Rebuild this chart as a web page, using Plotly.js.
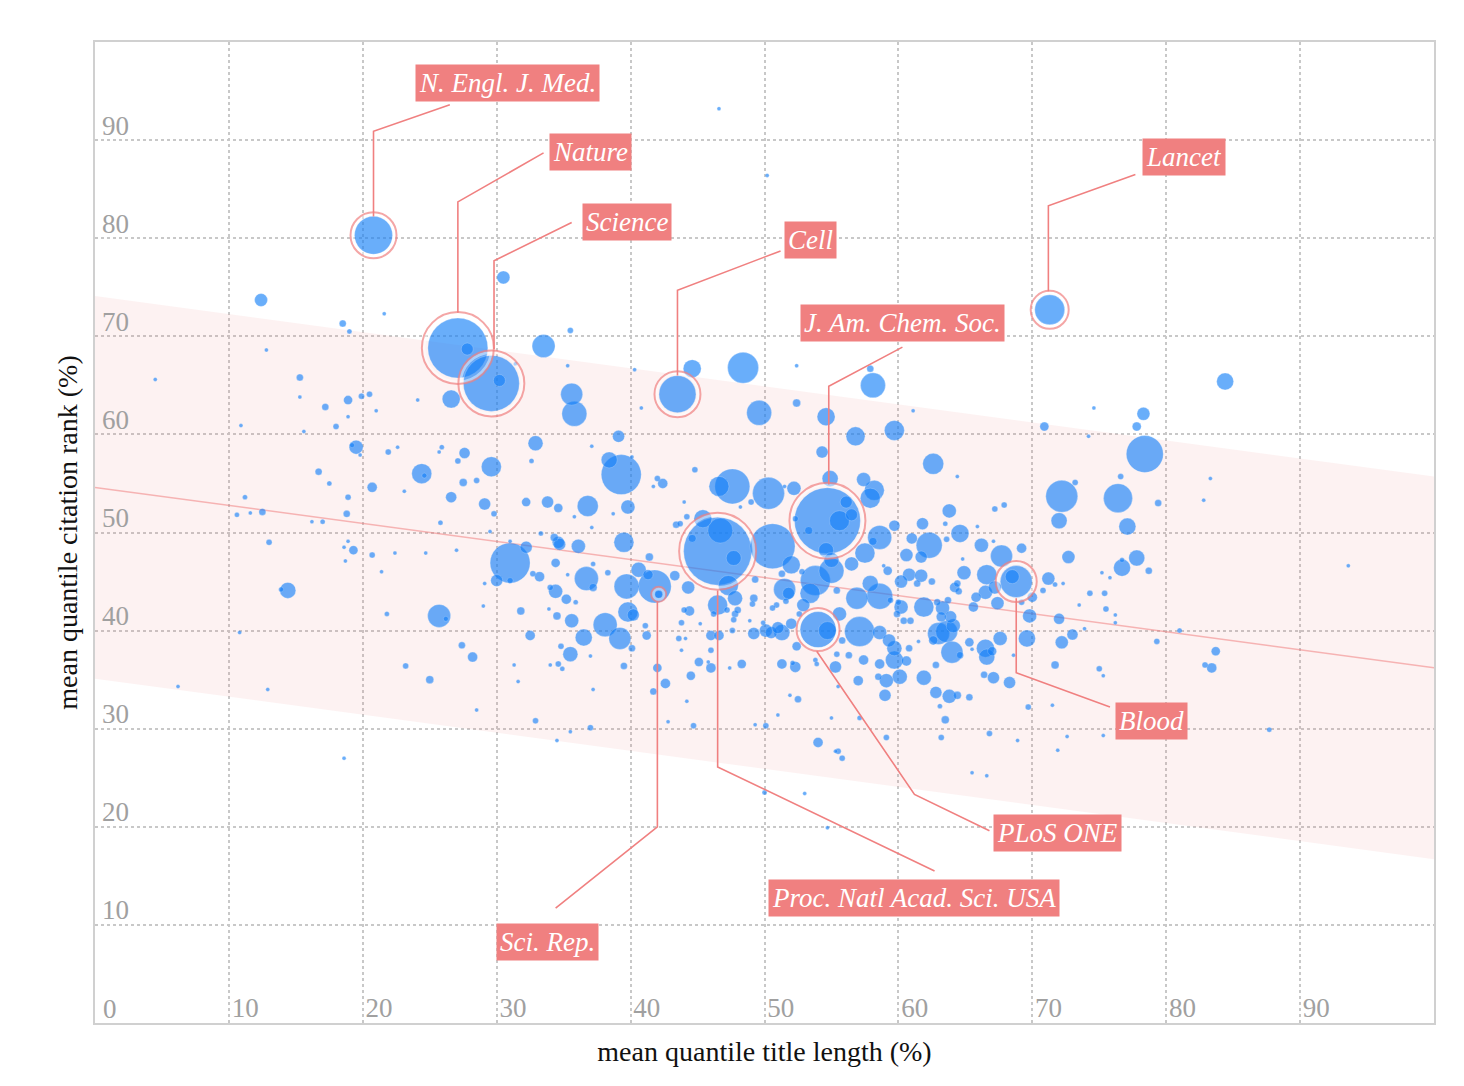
<!DOCTYPE html>
<html><head><meta charset="utf-8">
<script src="https://cdn.plot.ly/plotly-3.0.1.min.js"></script>
<style>html,body{margin:0;padding:0;background:#fff}#chart{width:1464px;height:1086px}</style>
</head><body><div id="chart"></div>
<script>
// ---- journal bubbles: mean quantile title length (x), mean quantile citation rank (y), bubble diameter ----
const titleLength = [
12.4,18.5,19.0,21.6,12.8,4.5,15.3,15.3,17.2,18.9,
19.9,20.5,18.9,21.0,24.1,26.6,27.1,29.6,30.2,27.8,
10.9,15.6,18.0,19.5,19.2,19.8,21.9,22.6,25.9,25.7,
27.6,27.1,29.6,24.4,24.6,16.7,17.5,20.7,23.1,27.5,
28.5,26.6,29.1,18.9,11.2,10.6,11.6,12.5,16.2,17.0,
18.8,25.8,29.5,13.0,19.3,18.6,18.9,20.7,22.4,24.7,
27.0,18.7,21.4,14.4,13.9,21.8,25.7,26.2,29.0,29.1,
10.8,27.4,28.2,23.2,25.0,6.2,12.9,28.5,18.6,
33.5,35.5,31.4,35.3,40.3,35.6,35.8,40.8,43.5,44.6,
48.4,49.6,52.4,52.4,54.6,54.3,54.9,39.1,32.9,37.1,
32.6,38.4,39.3,40.1,44.8,42.0,42.4,41.7,47.6,46.6,
50.3,52.2,51.5,49.0,48.2,44.0,29.8,32.2,33.8,34.6,
36.8,39.8,35.8,38.7,37.1,33.3,31.0,45.4,44.2,43.4,
43.7,46.5,46.7,44.6,50.6,54.7,52.3,53.3,34.3,34.6,
36.1,39.5,
31.0,32.2,34.7,41.4,34.4,37.2,35.3,38.3,32.7,33.2,
30.0,31.0,36.7,37.2,39.7,40.6,41.3,41.8,42.1,43.3,
44.3,34.0,34.4,35.2,35.9,31.8,33.9,34.5,35.6,38.1,
36.5,39.2,39.8,40.2,41.1,41.2,40.1,32.5,34.8,35.5,
37.0,31.3,34.0,34.6,34.9,39.5,31.6,37.2,42.0,42.6,
41.7,32.9,35.5,37.0,34.5,42.8,44.2,44.7,44.5,45.1,
46.0,46.0,45.8,43.8,43.6,44.1,43.8,45.2,44.4,44.0,
46.0,46.6,46.5,46.2,47.2,47.8,47.8,48.0,47.7,47.4,
48.3,47.6,48.9,49.1,49.2,49.3,49.2,47.3,50.1,49.9,
50.5,51.0,51.3,52.0,52.4,51.3,52.3,52.1,51.9,52.5,
51.0,49.3,50.1,54.0,55.0,55.3,54.0,54.7,53.8,53.9,
55.3,55.5,51.5,51.8,50.9,50.6,51.6,53.8,53.4,52.9,
52.6,52.0,51.3,52.8,47.7,54.6,55.0,55.4,55.0,
58.1,57.9,61.1,56.8,59.7,62.6,64.4,70.9,74.6,74.2,
78.3,77.8,78.4,76.6,79.4,82.8,83.3,72.2,73.2,72.0,
76.4,77.1,77.8,72.7,76.7,57.4,58.2,57.9,56.1,63.8,
67.2,67.9,61.8,63.5,64.6,65.9,59.7,58.6,58.1,61.0,
62.3,63.6,66.2,67.1,67.7,69.2,60.6,57.5,64.8,56.5,
55.6,
61.7,56.5,59.2,58.9,60.8,60.2,61.7,61.4,62.5,64.9,
64.4,64.2,64.5,66.6,67.2,66.5,65.8,67.4,65.6,68.8,
68.5,71.2,71.7,72.3,70.8,70.0,69.2,76.7,78.7,75.2,
75.8,74.3,75.4,75.5,73.5,76.2,76.2,69.8,72.0,73.9,
73.0,72.2,69.6,71.7,75.0,75.3,79.3,81.0,82.9,71.5,
69.7,68.9,72.6,71.9,75.3,66.8,63.2,59.1,63.5,63.1,
65.3,62.8,63.8,64.4,61.9,59.0,57.0,57.1,59.1,60.1,
58.5,58.6,59.7,60.6,60.8,57.4,56.3,55.4,59.7,59.3,
58.6,57.1,55.8,62.6,63.0,63.6,64.1,64.0,64.6,62.8,
61.5,65.3,66.5,66.6,67.0,67.6,66.4,67.1,68.3,68.6,
65.5,61.9,63.3,63.2,62.9,63.7,63.9,60.2,60.4,60.9,
59.9,56.9,58.6,57.9,59.4,60.0,55.6,
84.4,93.6,83.7,83.4,87.7,55.5,55.8,50.0,53.0,54.7,
65.5,66.6,46.6,50.2,20.8,71.3,30.5
];
const citationRank = [
73.7,71.3,70.5,72.3,68.6,65.6,65.8,63.8,62.8,63.5,
63.9,64.1,61.8,62.4,63.5,63.6,68.8,65.2,65.5,68.7,
60.9,60.3,60.8,58.7,58.9,57.9,58.2,58.7,58.7,58.2,
58.1,57.3,56.7,56.0,55.8,56.2,55.0,54.6,54.2,55.1,
55.3,53.6,52.9,53.6,53.6,51.8,52.0,52.1,51.1,51.1,
51.9,51.0,50.1,49.0,48.2,48.5,49.1,47.7,47.9,47.9,
48.2,47.1,46.0,44.1,44.2,41.7,41.5,41.2,42.5,44.8,
39.8,38.5,37.3,36.4,35.0,34.3,34.0,31.9,27.0,
69.0,70.6,67.2,67.0,66.6,64.1,62.1,62.7,64.1,66.7,
66.8,62.2,67.0,63.2,61.8,58.2,55.5,59.8,59.1,58.8,
57.3,57.4,55.9,57.7,56.4,55.5,55.0,54.7,54.7,54.7,
54.0,54.5,54.7,53.1,52.6,53.1,51.9,53.1,53.1,52.5,
52.7,52.6,51.6,51.9,50.5,49.9,49.1,51.4,51.6,50.8,
50.9,48.1,50.2,49.4,48.6,51.2,51.4,50.2,49.5,49.0,
48.6,49.0,
46.9,48.5,48.8,47.5,46.9,46.8,45.7,45.9,45.8,45.5,
45.1,45.1,45.3,44.4,44.5,46.2,45.7,44.5,43.7,45.6,
44.4,44.4,44.0,43.2,42.9,42.0,42.2,41.5,41.0,40.6,
39.3,39.2,41.9,41.6,40.5,39.5,38.2,39.5,38.4,37.6,
37.4,36.5,36.5,36.6,36.1,36.4,34.8,34.0,36.2,34.6,
33.8,30.8,29.7,30.1,28.8,30.7,32.8,30.3,35.4,36.8,
36.2,38.0,36.8,38.0,39.2,39.2,40.8,40.7,42.0,42.1,
39.5,39.5,42.6,41.7,42.1,43.3,41.7,42.1,41.1,36.2,
36.6,40.0,41.0,42.7,43.3,45.2,39.7,44.6,40.0,40.8,
39.8,40.3,39.8,40.7,38.4,36.6,36.3,36.7,33.4,33.0,
31.4,30.4,30.3,28.6,31.1,27.7,40.1,40.0,37.0,36.6,
36.3,34.3,44.2,43.8,42.6,42.3,43.0,45.1,43.8,42.6,
41.7,46.7,45.8,46.0,47.4,48.2,46.1,44.1,47.2,
65.0,66.7,62.4,59.8,60.4,57.0,55.7,60.8,62.7,59.8,
62.1,60.8,58.0,55.7,53.0,53.3,55.5,53.7,55.1,51.2,
53.5,50.6,47.4,47.5,47.2,55.4,54.3,53.5,53.1,52.2,
52.4,52.8,50.9,50.9,49.9,50.6,50.7,49.5,49.1,49.4,
48.7,49.3,48.7,49.1,47.6,48.4,47.7,47.9,47.3,51.8,
51.2,
47.5,46.8,46.1,46.6,45.7,45.0,45.6,44.8,45.0,45.9,
44.8,44.4,44.0,45.7,44.4,43.9,43.4,42.8,42.4,45.0,
45.5,45.3,44.7,44.8,44.1,43.4,42.9,46.4,46.1,45.9,
45.4,43.8,43.8,42.2,42.6,41.6,40.8,41.5,41.2,40.2,
39.6,38.8,39.2,36.5,36.1,35.4,38.9,40.0,36.5,32.4,
32.2,28.8,29.2,27.8,29.3,29.5,29.1,29.1,30.9,32.3,
33.2,33.7,33.3,33.4,35.2,33.4,34.9,31.1,34.9,35.3,
35.3,36.6,37.0,36.9,38.2,37.0,37.5,37.6,38.2,39.0,
39.8,39.9,39.0,39.0,39.7,39.9,40.5,37.8,37.5,36.5,
38.9,38.8,38.2,37.3,37.9,39.2,35.5,35.2,34.7,37.5,
38.1,42.4,42.3,41.4,42.9,43.1,41.4,42.4,41.0,41.0,
41.7,43.3,43.5,44.8,43.1,42.9,41.7,
65.4,46.6,37.9,36.2,29.9,27.7,27.0,23.5,23.4,19.9,
25.5,25.2,93.2,86.4,80.3,72.7,76.0
];
const bubbleSize = [
13,7,5,4,4,4,7,4,7,9,
6,6,4,4,4,18,60,56,12,12,
4,4,6,14,5,4,6,4,5,4,
11,6,20,20,5,7,5,10,4,8,
6,11,12,6,5,5,4,7,4,5,
7,5,4,6,9,4,4,6,4,4,
4,4,4,16,5,5,23,5,4,4,
4,7,10,6,8,4,4,4,4,
23,6,4,4,4,22,25,4,37,18,
31,25,4,8,18,12,16,12,15,4,
5,16,40,4,6,6,10,4,35,20,
32,14,4,6,4,4,6,9,12,9,
21,14,4,4,4,5,4,18,6,7,
6,68,25,8,45,66,6,8,8,12,
14,20,
40,12,12,8,9,5,4,6,6,10,
12,6,24,8,25,15,10,33,8,10,
13,6,14,10,5,8,4,8,14,24,
17,22,20,12,6,9,7,10,6,15,
4,4,4,6,5,7,4,4,9,10,
7,6,4,6,4,4,4,6,9,9,
10,6,4,4,6,4,6,4,10,6,
10,10,20,6,6,15,7,7,6,4,
9,6,4,6,8,7,12,20,13,5,
12,12,16,11,9,10,11,5,4,7,
4,4,6,10,4,4,36,18,5,5,
12,4,22,12,6,6,6,30,20,13,
6,18,7,6,15,15,25,7,15,
25,7,4,19,20,21,4,9,4,4,
13,9,37,6,7,4,4,32,6,16,
29,17,16,13,5,14,20,20,12,14,
6,6,12,5,18,4,11,24,8,11,
26,6,14,4,22,10,13,20,4,12,
20,
12,14,9,4,13,13,13,7,7,14,
7,10,7,20,13,14,10,13,10,32,
14,13,5,4,6,10,6,17,7,4,
4,6,6,6,4,4,4,14,11,4,
11,13,17,8,6,4,6,5,6,4,
6,4,4,4,4,6,6,6,8,5,
7,12,14,8,15,12,10,5,14,15,
7,10,18,10,7,10,7,6,15,13,
14,30,7,9,22,22,14,22,7,7,
4,9,18,16,9,14,7,12,12,4,
4,20,14,10,7,7,12,14,7,7,
7,22,26,16,6,6,14,
17,4,9,10,5,6,6,5,4,4,
4,4,4,4,38,30,13
];

// ---- fitted trend and its band ----
const fitX = [0, 100];
const fitY = [54.6, 36.2];
const bandUpper = [74.1, 55.7];
const bandLower = [35.1, 16.7];

// ---- highlighted journals ----
const journalNames = ['N. Engl. J. Med.','Nature','Science','Cell','J. Am. Chem. Soc.','Lancet','Blood','PLoS ONE','Proc. Natl Acad. Sci. USA','Sci. Rep.'];
const journalX = [20.8,27.1,29.6,43.5,54.7,71.3,68.8,54.0,46.5,42.1];
const journalY = [80.3,68.8,65.2,64.1,51.2,72.7,45.0,40.1,48.1,43.7];
const ringSize = [46,72,66,46,76,38,41,43,77,15];
const labelX = [30.8,37.0,39.7,53.4,60.3,81.3,78.9,71.9,61.2,33.8];
const labelY = [95.8,88.8,81.7,79.8,71.4,88.3,30.8,19.4,12.7,8.3];
const leaderStartX = [26.5,33.5,35.6,51.2,60.3,77.7,75.8,66.8,62.7,34.4];
const leaderStartY = [93.6,88.7,81.6,78.7,68.9,86.5,32.2,19.6,15.5,11.7];
const elbowX = [20.8,27.1,29.8,43.5,54.8,71.2,68.8,61.2,46.5,42.0];
const elbowY = [90.9,83.7,77.7,74.7,64.9,83.3,35.7,23.3,26.1,20.0];
const leaderEndX = [20.8,27.1,29.8,43.5,54.8,71.2,68.8,53.9,46.5,42.0];
const leaderEndY = [82.2,72.4,68.7,66.0,54.9,74.6,43.3,37.9,44.1,43.0];

// ---- axis ticks ----
const xTickVals = [10,20,30,40,50,60,70,80,90];
const yTickVals = [10,20,30,40,50,60,70,80,90];
const originLabel = '0';

const CORAL = '#f08080';
const SERIF = '"Liberation Serif", "Times New Roman", Times, serif';
const TICKFONT = {family: SERIF, size: 27, color: '#a0a0a0'};

// sort bubbles so that small ones are drawn on top of big ones
const order = bubbleSize.map((s, i) => i).sort((a, b) => bubbleSize[b] - bubbleSize[a]);
const bx = order.map(i => titleLength[i]);
const by = order.map(i => citationRank[i]);
const bs = order.map(i => bubbleSize[i]);

const lx = [], ly = [];
for (let i = 0; i < journalNames.length; i++) {
  lx.push(leaderStartX[i], elbowX[i], leaderEndX[i], null);
  ly.push(leaderStartY[i], elbowY[i], leaderEndY[i], null);
}

const traces = [
  {x: fitX, y: bandLower, mode: 'lines', line: {width: 0}, hoverinfo: 'skip', showlegend: false},
  {x: fitX, y: bandUpper, mode: 'lines', line: {width: 0}, fill: 'tonexty',
   fillcolor: 'rgba(240,128,128,0.10)', hoverinfo: 'skip', showlegend: false},
  {x: fitX, y: fitY, mode: 'lines', line: {color: 'rgba(240,128,128,0.55)', width: 1.5}, hoverinfo: 'skip'},
  {x: bx, y: by, mode: 'markers', hoverinfo: 'x+y',
   marker: {size: bs, sizemode: 'diameter', color: 'rgba(20,128,248,0.9)',
            line: {color: 'rgba(255,255,255,0.35)', width: 0.8}}},
  {x: journalX, y: journalY, mode: 'markers', hoverinfo: 'skip',
   marker: {symbol: 'circle-open', size: ringSize.map(s => s - 4), color: 'rgba(255,255,255,0.65)',
            line: {color: 'rgba(255,255,255,0.65)', width: 3}}},
  {x: journalX, y: journalY, mode: 'markers', hoverinfo: 'skip',
   marker: {symbol: 'circle-open', size: ringSize, color: CORAL, line: {color: CORAL, width: 2}}},
  {x: lx, y: ly, mode: 'lines', line: {color: CORAL, width: 1.6}, hoverinfo: 'skip', connectgaps: false}
];

const annotations = journalNames.map((n, i) => ({
  x: labelX[i], y: labelY[i], xref: 'x', yref: 'y', text: n, showarrow: false,
  xanchor: 'center', yanchor: 'middle', bgcolor: CORAL, borderpad: 3,
  font: {family: SERIF, style: 'italic', size: 27, color: 'white'}
}));
// the shared origin tick label in the bottom-left corner
annotations.push({x: 0, y: 0, xref: 'x', yref: 'y', text: originLabel, showarrow: false,
  xanchor: 'left', yanchor: 'bottom', xshift: 6, yshift: -3, font: TICKFONT});

const axisCommon = {
  range: [0, 100], showgrid: true, gridcolor: '#c8c8c8', gridwidth: 1.5, griddash: '3px,3px',
  zeroline: false, showline: true, mirror: true, linecolor: '#d0d0d0', linewidth: 1.5,
  ticks: '', tickfont: TICKFONT, fixedrange: true
};

const layout = {
  width: 1464, height: 1086,
  margin: {l: 95, r: 30, t: 42, b: 63},
  paper_bgcolor: 'white', plot_bgcolor: 'white', showlegend: false,
  font: {family: SERIF, color: '#111'},
  xaxis: Object.assign({}, axisCommon, {
    tickvals: xTickVals, ticktext: xTickVals.map(String), ticklabelposition: 'inside right',
    ticklabelshift: 2,
    title: {text: 'mean quantile title length (%)', font: {family: SERIF, size: 28, color: '#111'}, standoff: 19}
  }),
  yaxis: Object.assign({}, axisCommon, {
    tickvals: yTickVals, ticktext: yTickVals.map(String), ticklabelposition: 'inside top',
    ticklabelstandoff: 9, ticklabelshift: 4,
    title: {text: 'mean quantile citation rank (%)', font: {family: SERIF, size: 28, color: '#111'}, standoff: 16}
  }),
  annotations: annotations,
  hovermode: 'closest'
};

Plotly.newPlot('chart', traces, layout, {displayModeBar: false});
</script>
</body></html>
